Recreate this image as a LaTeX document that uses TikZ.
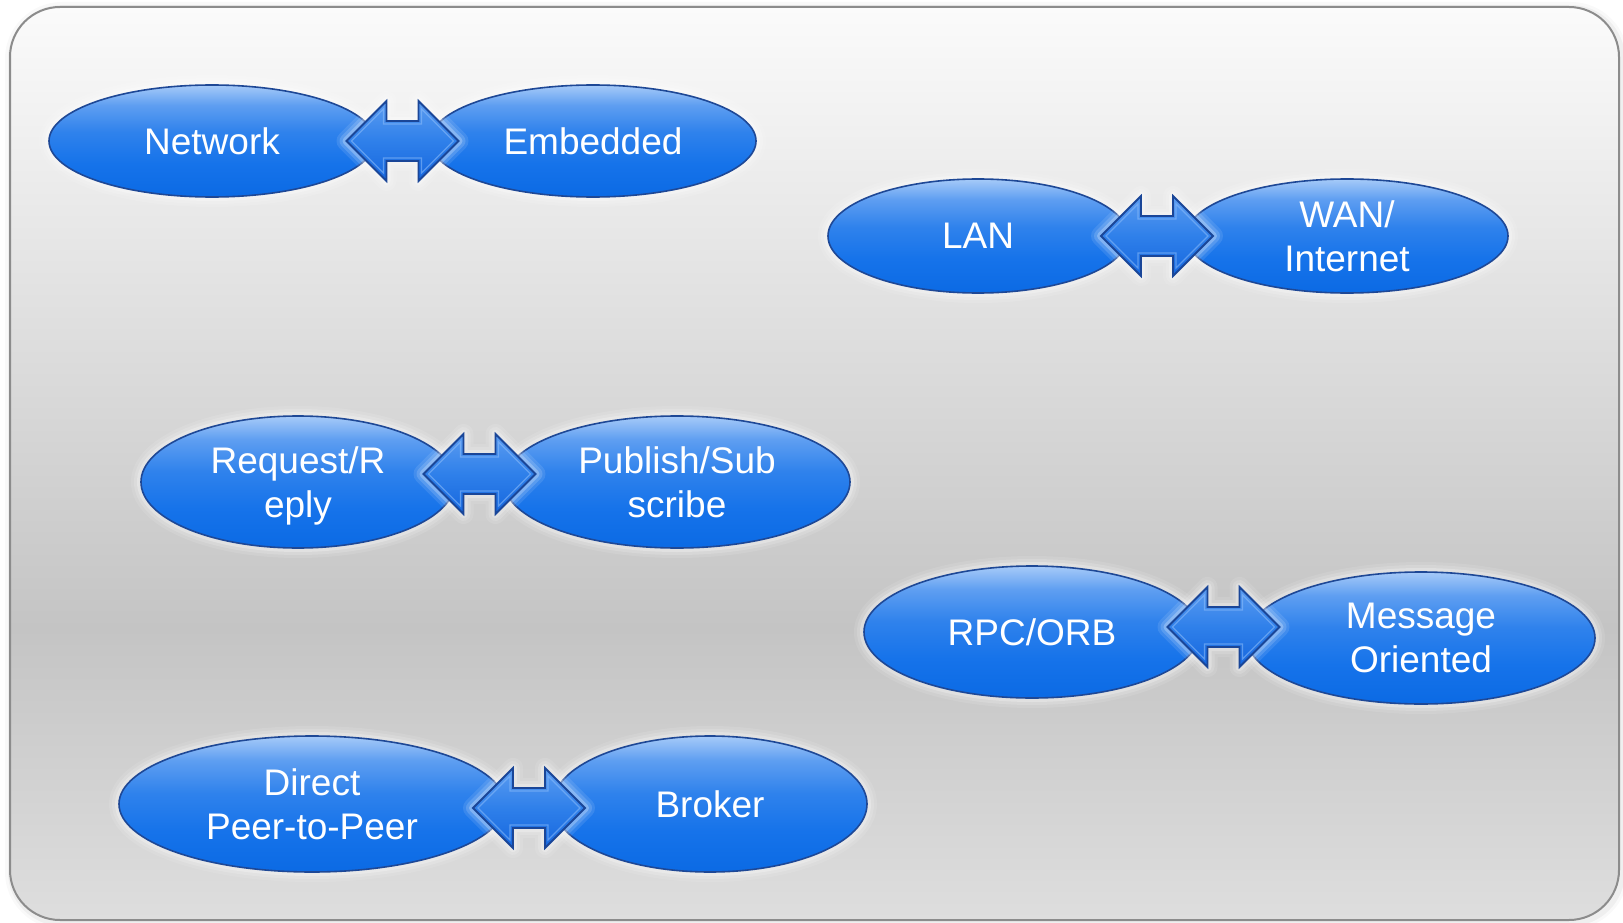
\documentclass[tikz,border=0pt]{standalone}
\usepackage{fontspec}
\setmainfont{Liberation Sans}
\usetikzlibrary{shapes.geometric,calc}

% colours
\definecolor{bgtop}{HTML}{FBFBFB}
\definecolor{bgmid}{HTML}{C4C4C4}
\definecolor{bgbot}{HTML}{DEDEDE}
\definecolor{framegray}{HTML}{8C8C8C}
\definecolor{ovtop}{HTML}{A6CAF8}
\definecolor{ovhigh}{HTML}{5E9EF1}
\definecolor{ovmid}{HTML}{2F82EC}
\definecolor{ovlow}{HTML}{1673EA}
\definecolor{ovbot}{HTML}{0B6AE4}
\definecolor{ovline}{HTML}{1E4896}
\definecolor{artop}{HTML}{5C9CF0}
\definecolor{armid}{HTML}{2F80EA}
\definecolor{arbot}{HTML}{1566DE}
\definecolor{arline}{HTML}{1A4698}
\definecolor{arbevel}{HTML}{8EBEFA}

% vertical shadings (25bp = bottom of the path, 75bp = top)
\pgfdeclareverticalshading{bgshade}{100bp}{color(0bp)=(bgbot); color(25bp)=(bgbot); color(41bp)=(bgmid); color(75bp)=(bgtop); color(100bp)=(bgtop)}
\pgfdeclareverticalshading{ovalshade}{100bp}{color(0bp)=(ovbot); color(25bp)=(ovbot); color(40bp)=(ovlow); color(54bp)=(ovmid); color(66bp)=(ovhigh); color(75bp)=(ovtop); color(100bp)=(ovtop)}
\pgfdeclareverticalshading{arrowshade}{100bp}{color(0bp)=(arbot); color(25bp)=(arbot); color(50bp)=(armid); color(75bp)=(artop); color(100bp)=(artop)}

\tikzset{
  glow/.style={
    preaction={draw=white, line width=20pt, draw opacity=0.10, line join=round},
    preaction={draw=white, line width=14pt, draw opacity=0.15, line join=round},
    preaction={draw=white, line width=8pt, draw opacity=0.25, line join=round}},
  oval/.style={ellipse, inner sep=0pt, glow, shading=ovalshade,
    draw=ovline, line width=1.6pt, text=white, align=center,
    font=\fontsize{37}{44}\selectfont},
  arrowbody/.style={glow, shading=arrowshade, draw=arline, line width=1.8pt, line join=miter},
  arrowbevel/.style={draw=arbevel, line width=1.2pt, draw opacity=0.55},
  pics/twoway/.style={code={
    \path[arrowbody] (-56,0) -- (-16,-40) -- (-16,-20) -- (16,-20) -- (16,-40)
      -- (56,0) -- (16,40) -- (16,20) -- (-16,20) -- (-16,40) -- cycle;
    \path[arrowbevel] (-51,0) -- (-19,-32) -- (-19,-17) -- (19,-17) -- (19,-32)
      -- (51,0) -- (19,32) -- (19,17) -- (-19,17) -- (-19,32) -- cycle;
  }},
  framebox/.style={rounded corners=50pt, shading=bgshade, draw=framegray, line width=2pt,
    preaction={draw=black, line width=14pt, draw opacity=0.025, transform canvas={xshift=2pt,yshift=-2pt}},
    preaction={draw=black, line width=8pt, draw opacity=0.04, transform canvas={xshift=2pt,yshift=-2pt}}},
}

\begin{document}
\begin{tikzpicture}[x=1pt, y=-1pt]
  \useasboundingbox (0,0) rectangle (1623,923);
  \fill[white] (0,0) rectangle (1623,923);

  % panel
  \path[framebox] (10,7) rectangle (1619,920);

  % pairs of ovals
  \node[oval, minimum width=326, minimum height=112] (n1) at (212,141) {Network};
  \node[oval, minimum width=326, minimum height=112] (n2) at (593,141) {Embedded};

  \node[oval, minimum width=300, minimum height=114] (n3) at (978,236) {LAN};
  \node[oval, minimum width=322, minimum height=114] (n4) at (1347,236) {WAN/\\Internet};

  \node[oval, minimum width=314, minimum height=132, text depth=0pt] (n5) at (298,482) {Request/R\\eply};
  \node[oval, minimum width=346, minimum height=132] (n6) at (677,482) {Publish/Sub\\scribe};

  \node[oval, minimum width=336, minimum height=132] (n7) at (1032,632) {RPC/ORB};
  \node[oval, minimum width=348, minimum height=132] (n8) at (1421,638) {Message\\Oriented};

  \node[oval, minimum width=386, minimum height=136] (n9) at (312,804) {Direct\\Peer-to-Peer};
  \node[oval, minimum width=314, minimum height=136] (n10) at (710,804) {Broker};

  % two-way arrows between the ovals of each pair
  \coordinate (m12) at ($(n1.east)!0.5!(n2.west)$);
  \coordinate (m34) at ($(n3.east)!0.5!(n4.west)$);
  \coordinate (m56) at ($(n5.east)!0.5!(n6.west)+(0,-8)$);
  \coordinate (m78) at ($(n7.east)!0.5!(n8.west)+(0,-8)$);
  \coordinate (m910) at ($(n9.east)!0.5!(n10.west)+(0,4)$);

  \pic at (m12) {twoway};
  \pic at (m34) {twoway};
  \pic at (m56) {twoway};
  \pic at (m78) {twoway};
  \pic at (m910) {twoway};
\end{tikzpicture}
\end{document}
